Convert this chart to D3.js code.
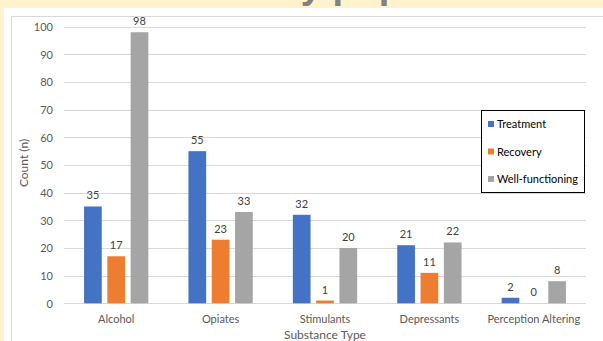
<!DOCTYPE html>
<html>
<head>
<meta charset="utf-8">
<script src="https://cdn.jsdelivr.net/npm/d3@7/dist/d3.min.js"></script>
<style>
  html, body { margin: 0; padding: 0; background: #FFF2CC; }
  svg { display: block; }
</style>
</head>
<body>
<svg id="chart" width="603" height="341"></svg>
<script>
// Substance type counts per group
const categories = ["Alcohol", "Opiates", "Stimulants", "Depressants", "Perception Altering"];
const seriesNames = ["Treatment", "Recovery", "Well-functioning"];
const treatment = [35, 55, 32, 21, 2];
const recovery = [17, 23, 1, 11, 0];
const wellFunctioning = [98, 33, 20, 22, 8];
const yTicks = [0, 10, 20, 30, 40, 50, 60, 70, 80, 90, 100];

const seriesValues = [treatment, recovery, wellFunctioning];
const colors = ["#4472C4", "#ED7D31", "#A5A5A5"];
const font = "Lato, 'Liberation Sans', sans-serif";

const svg = d3.select("#chart");

// Slide heading above the chart panel (runs off the top edge)
const headFont = "'Liberation Sans', Arial, sans-serif";
const lead = svg.append("text")
  .attr("font-family", headFont).attr("font-weight", "bold").attr("font-size", 38)
  .attr("opacity", 0).text("Substance use ");
const leadWidth = lead.node().getComputedTextLength();
lead.remove();
svg.append("text")
  .attr("x", 267 - leadWidth).attr("y", -2)
  .attr("font-family", headFont).attr("font-weight", "bold").attr("font-size", 38)
  .attr("fill", "#808080")
  .text("Substance use by population");

// White chart panel and its border
svg.append("rect").attr("x", 4).attr("y", 8).attr("width", 620).attr("height", 350).attr("fill", "#ffffff");
svg.append("rect").attr("x", 11.5).attr("y", 16.5).attr("width", 620).attr("height", 350)
  .attr("fill", "none").attr("stroke", "#d9d9d9").attr("stroke-width", 1);

const plotLeft = 64, plotRight = 586;
const y = d3.scaleLinear().domain([0, 100]).range([303.3, 26.7]);
const x0 = d3.scaleBand().domain(categories).range([plotLeft, plotRight]);
const bw = x0.bandwidth();
const x1 = d3.scaleBand().domain(seriesNames)
  .range([bw / 2 - 32.15, bw / 2 + 32.15]).paddingInner(0.24);

// Gridlines
svg.append("g").selectAll("line").data(yTicks).join("line")
  .attr("x1", plotLeft).attr("x2", plotRight)
  .attr("y1", d => Math.round(y(d)) + 0.5).attr("y2", d => Math.round(y(d)) + 0.5)
  .attr("stroke", "#d9d9d9").attr("stroke-width", 1);

// Y axis labels
const yAxis = d3.axisLeft(y).tickValues(yTicks).tickSize(0).tickPadding(0);
const gy = svg.append("g").attr("transform", "translate(53,0)").call(yAxis);
gy.select(".domain").remove();
gy.selectAll("text")
  .attr("font-family", font).attr("font-size", 11).attr("fill", "#595959")
  .attr("dy", "0.35em");

// X axis labels
const xAxis = d3.axisBottom(x0).tickSize(0).tickPadding(0);
const gx = svg.append("g").attr("transform", "translate(0,315)").call(xAxis);
gx.select(".domain").remove();
gx.selectAll("text")
  .attr("font-family", font).attr("font-size", 11).attr("fill", "#595959");

// Bars with value labels
const groups = svg.append("g").selectAll("g").data(categories).join("g")
  .attr("transform", d => `translate(${x0(d)},0)`);

groups.each(function(cat, ci) {
  const g = d3.select(this);
  seriesNames.forEach((s, si) => {
    const v = seriesValues[si][ci];
    g.append("rect")
      .attr("x", x1(s)).attr("width", x1.bandwidth())
      .attr("y", y(v)).attr("height", y(0) - y(v))
      .attr("fill", colors[si]);
    g.append("text")
      .attr("x", x1(s) + x1.bandwidth() / 2)
      .attr("y", y(v) - 7)
      .attr("text-anchor", "middle")
      .attr("font-family", font).attr("font-size", 11).attr("fill", "#404040")
      .text(v);
  });
});

// Axis titles
svg.append("text")
  .attr("transform", "translate(28,163) rotate(-90)")
  .attr("text-anchor", "middle")
  .attr("font-family", font).attr("font-size", 12).attr("fill", "#595959")
  .text("Count (n)");
svg.append("text")
  .attr("x", (plotLeft + plotRight) / 2).attr("y", 339)
  .attr("text-anchor", "middle")
  .attr("font-family", font).attr("font-size", 12).attr("fill", "#595959")
  .text("Substance Type");

// Legend
const legend = svg.append("g");
legend.append("rect").attr("x", 481.5).attr("y", 110.5).attr("width", 103).attr("height", 82)
  .attr("fill", "#ffffff").attr("stroke", "#000000").attr("stroke-width", 1);
const rowY = d3.scalePoint().domain(seriesNames).range([124, 179]);
seriesNames.forEach((s, i) => {
  legend.append("rect").attr("x", 488).attr("y", rowY(s) - 3).attr("width", 6).attr("height", 6)
    .attr("fill", colors[i]);
  legend.append("text").attr("x", 497).attr("y", rowY(s) + 4)
    .attr("font-family", font).attr("font-size", 11).attr("fill", "#000000")
    .text(s);
});
</script>
</body>
</html>
